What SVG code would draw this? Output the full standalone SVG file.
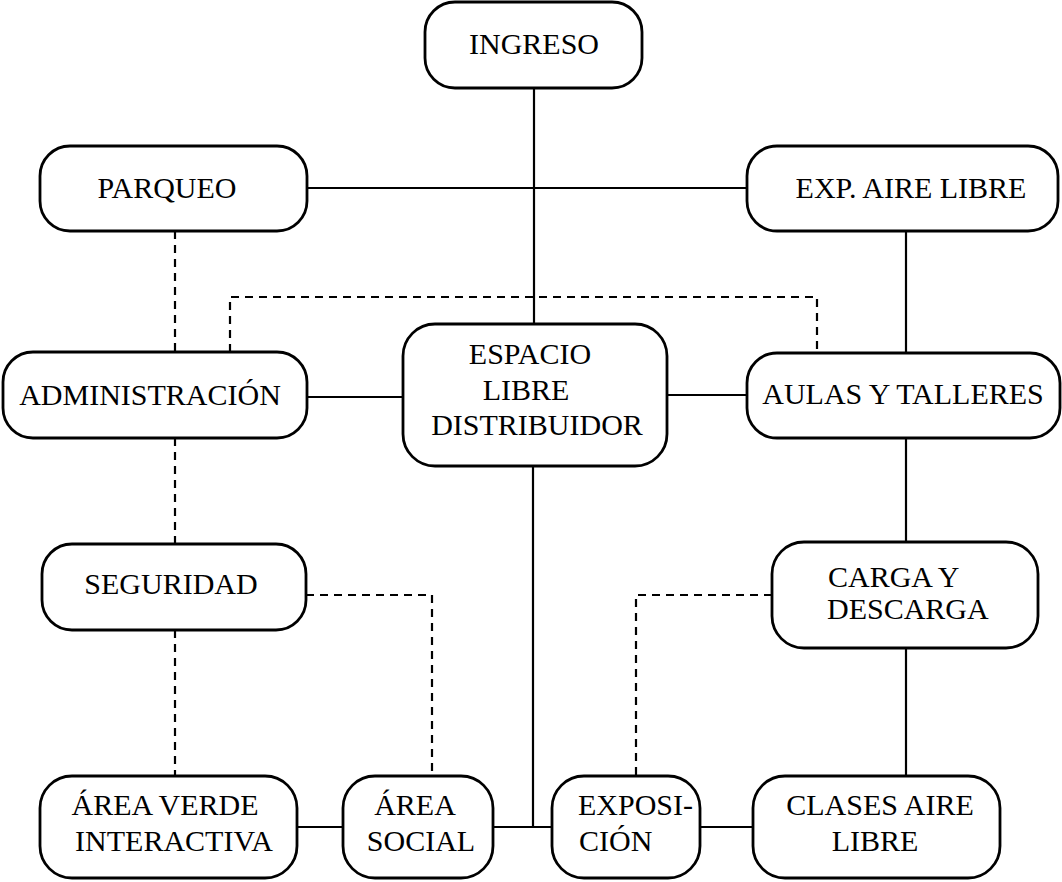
<svg xmlns="http://www.w3.org/2000/svg" width="1062" height="882" viewBox="0 0 1062 882">
<style>
.box{fill:#fff;stroke:#000;stroke-width:2.8}
.t{font-family:"Liberation Serif","Times New Roman",serif;font-size:30px;fill:#000;text-anchor:middle}
.ts{font-family:"Liberation Serif","Times New Roman",serif;font-size:30px;fill:#000;text-anchor:start}
.s{fill:none;stroke:#000;stroke-width:2.2}
.d{fill:none;stroke:#000;stroke-width:2.2;stroke-dasharray:8 6}
</style>
<rect width="1062" height="882" fill="#fff"/>
<g id="connectors">
<path class="s" d="M534 88V324"/>
<path class="s" d="M307 188H747"/>
<path class="s" d="M906 231V353"/>
<path class="s" d="M307 397H403"/>
<path class="s" d="M667 395H747"/>
<path class="s" d="M906 438V542"/>
<path class="s" d="M906 648V776"/>
<path class="s" d="M533 466V827"/>
<path class="s" d="M297 827H343"/>
<path class="s" d="M493 827H552"/>
<path class="s" d="M700 827H753"/>
<path class="d" d="M175 231V352"/>
<path class="d" d="M175 438V544"/>
<path class="d" d="M175 630V776"/>
<path class="d" d="M230 352V297H817V353"/>
<path class="d" d="M306 595H432V776"/>
<path class="d" d="M772 595H636V776"/>
</g>
<g id="ingreso"><rect class="box" x="425" y="2" width="217" height="86" rx="30"/><text class="t" x="534" y="54">INGRESO</text></g>
<g id="parqueo"><rect class="box" x="40" y="146" width="267" height="85" rx="30"/><text class="t" x="167" y="198">PARQUEO</text></g>
<g id="exp-aire-libre"><rect class="box" x="747" y="146" width="311" height="85" rx="30"/><text class="t" x="911" y="198">EXP. AIRE LIBRE</text></g>
<g id="administracion"><rect class="box" x="3" y="352" width="304" height="86" rx="30"/><text class="t" x="150" y="405">ADMINISTRACIÓN</text></g>
<g id="espacio"><rect class="box" x="403" y="324" width="264" height="142" rx="32"/><text class="t" x="530" y="364">ESPACIO</text><text class="t" x="526" y="400">LIBRE</text><text class="t" x="537" y="435">DISTRIBUIDOR</text></g>
<g id="aulas"><rect class="box" x="747" y="353" width="313" height="85" rx="30"/><text class="t" x="903" y="404">AULAS Y TALLERES</text></g>
<g id="seguridad"><rect class="box" x="42" y="544" width="264" height="86" rx="30"/><text class="t" x="171" y="594">SEGURIDAD</text></g>
<g id="carga"><rect class="box" x="772" y="542" width="266" height="106" rx="32"/><text class="ts" x="828" y="587">CARGA Y</text><text class="ts" x="827" y="619">DESCARGA</text></g>
<g id="area-verde"><rect class="box" x="40" y="776" width="257" height="102" rx="32"/><text class="t" x="165" y="815">ÁREA VERDE</text><text class="t" x="174" y="851">INTERACTIVA</text></g>
<g id="area-social"><rect class="box" x="343" y="776" width="150" height="102" rx="32"/><text class="t" x="415" y="815">ÁREA</text><text class="t" x="421" y="851">SOCIAL</text></g>
<g id="exposicion"><rect class="box" x="552" y="776" width="148" height="102" rx="32"/><text class="ts" x="578" y="815">EXPOSI-</text><text class="ts" x="579" y="851">CIÓN</text></g>
<g id="clases"><rect class="box" x="753" y="776" width="247" height="102" rx="32"/><text class="t" x="880" y="815">CLASES AIRE</text><text class="t" x="875" y="851">LIBRE</text></g>
</svg>
